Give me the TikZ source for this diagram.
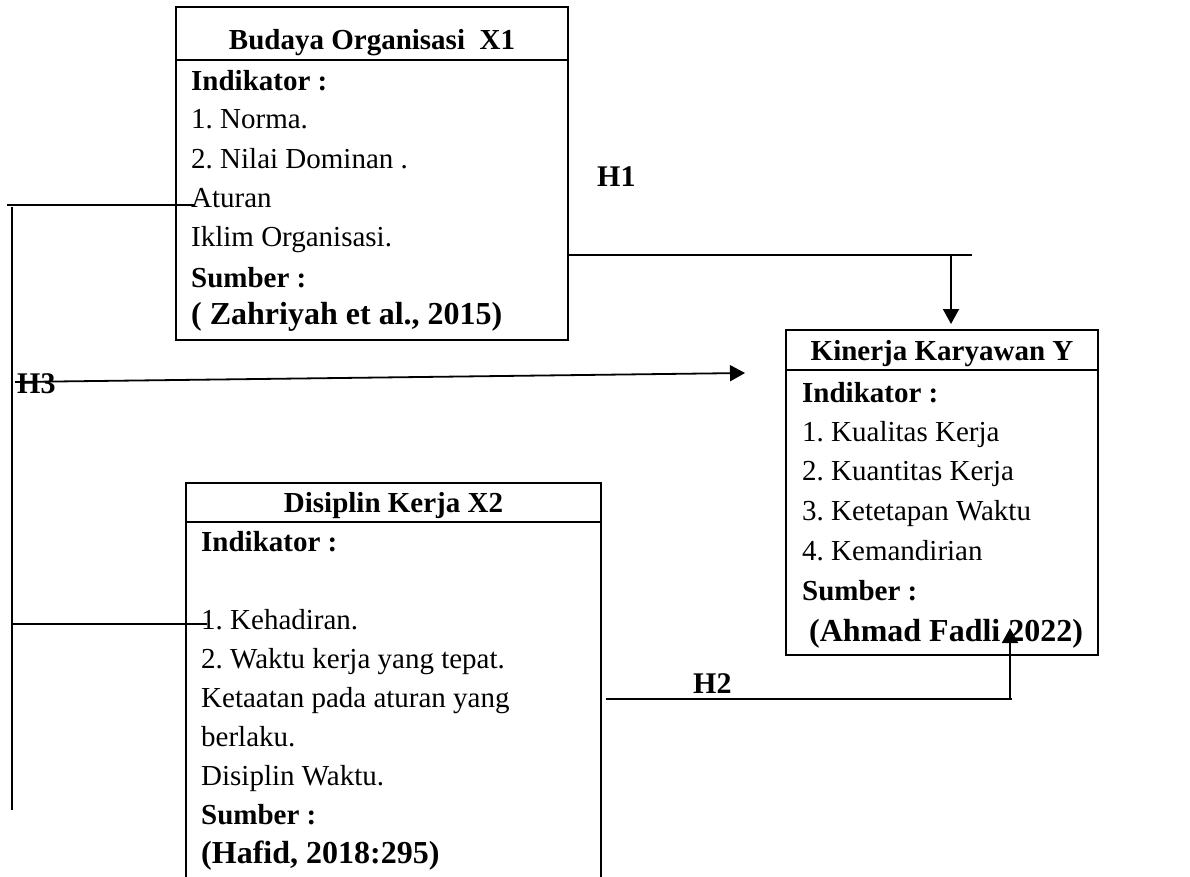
\documentclass[tikz,border=0pt]{standalone}
\usepackage{fontspec}
\setmainfont{Liberation Serif}
\usetikzlibrary{arrows.meta}
\frenchspacing
\begin{document}
\begin{tikzpicture}[x=1pt,y=-1pt,
  boxshape/.style={inner sep=0pt, outer sep=0pt, anchor=north west},
  border/.style={line width=1.8pt},
  txt/.style={anchor=base west, inner sep=0pt, font=\fontsize{29}{34}\selectfont},
  btxt/.style={anchor=base west, inner sep=0pt, font=\fontsize{29}{34}\selectfont\bfseries},
  src/.style={anchor=base west, inner sep=0pt, font=\fontsize{32}{38}\selectfont\bfseries},
  ttl/.style={anchor=base, inner sep=0pt, font=\fontsize{29}{34}\selectfont\bfseries},
  hlab/.style={anchor=base west, inner sep=0pt, font=\fontsize{30}{36}\selectfont\bfseries},
  conn/.style={line width=1.8pt},
  thin/.style={line width=1.3pt},
  arr/.style={line width=1.8pt, -{Triangle[length=15pt,width=16pt]}},
]
\useasboundingbox (0,0) rectangle (1190,877);

% ---------- Box 1: Budaya Organisasi X1
\node[boxshape, draw, line width=1.8pt, minimum width=392pt, minimum height=333pt] (b1) at (176,7) {};
\draw[border] (176,60) -- (568,60);
\node[ttl] (b1t) at (372,50) {Budaya Organisasi\ \ X1};
\node[btxt] (b1l1) at (191,91) {Indikator :};
\node[txt]  (b1l2) at (191,129) {1. Norma.};
\node[txt]  (b1l3) at (191,169) {2. Nilai Dominan .};
\node[txt]  (b1l4) at (191,208) {Aturan};
\node[txt]  (b1l5) at (191,247) {Iklim Organisasi.};
\node[btxt] (b1l6) at (191,287) {Sumber :};
\node[src]  (b1l7) at (191,324) {( Zahriyah et al., 2015)};

% ---------- Box 2: Disiplin Kerja X2 (open at the bottom)
\node[boxshape, minimum width=415pt, minimum height=394pt] (b2) at (186,483) {};
\draw[border] (b2.south west) -- (b2.north west) -- (b2.north east) -- (b2.south east);
\draw[border] (186,522) -- (601,522);
\node[ttl] (b2t) at (393.5,512) {Disiplin Kerja X2};
\node[btxt] (b2l1) at (201,551) {Indikator :};
\node[txt]  (b2l2) at (201,629) {1. Kehadiran.};
\node[txt]  (b2l3) at (201,668) {2. Waktu kerja yang tepat.};
\node[txt]  (b2l4) at (201,707) {Ketaatan pada aturan yang};
\node[txt]  (b2l5) at (201,746) {berlaku.};
\node[txt]  (b2l6) at (201,785) {Disiplin Waktu.};
\node[btxt] (b2l7) at (201,824) {Sumber :};
\node[src]  (b2l8) at (201,863) {(Hafid, 2018:295)};

% ---------- Box 3: Kinerja Karyawan Y
\node[boxshape, draw, line width=1.8pt, minimum width=312pt, minimum height=325pt] (b3) at (786,330) {};
\draw[border] (786,370) -- (1098,370);
\node[ttl] (b3t) at (942,360) {Kinerja Karyawan Y};
\node[btxt] (b3l1) at (802,402) {Indikator :};
\node[txt]  (b3l2) at (802,441) {1. Kualitas Kerja};
\node[txt]  (b3l3) at (802,480) {2. Kuantitas Kerja};
\node[txt]  (b3l4) at (802,520) {3. Ketetapan Waktu};
\node[txt]  (b3l5) at (802,560) {4. Kemandirian};
\node[btxt] (b3l6) at (802,600) {Sumber :};
\node[src]  (b3l7) at (809,641) {(Ahmad Fadli 2022)};

% ---------- connector end points
\coordinate (h1s) at (b1.east |- 0,255);
\coordinate (h1e) at (972,255);
\coordinate (h1j) at (951,255);
\coordinate (h1tip) at (951,324);

\coordinate (h2s) at (606,699);
\coordinate (h2e) at (1012,699);
\coordinate (h2j) at (1010,699);
\coordinate (h2tip) at (1010,628);

\coordinate (h3top) at (12,207);
\coordinate (h3bot) at (12,810);
\coordinate (h3a) at (7,205);
\coordinate (h3b) at (194,205);
\coordinate (h3c) at (12,624);
\coordinate (h3d) at (207,624);
\coordinate (h3s) at (15,382);
\coordinate (h3tip) at (745,373);

% ---------- H1
\draw[conn] (h1s) -- (h1e);
\draw[arr] (h1j) -- (h1tip);
\node[hlab] (lh1) at (597,187) {H1};

% ---------- H2
\draw[conn] (h2s) -- (h2e);
\draw[arr] (h2j) -- (h2tip);
\node[hlab] (lh2) at (693,693) {H2};

% ---------- H3
\draw[thin] (h3top) -- (h3bot);
\draw[conn] (h3a) -- (h3b);
\draw[thin] (h3c) -- (h3d);
\node[hlab] (lh3) at (17,393) {H3};
\draw[arr] (h3s) -- (h3tip);
\end{tikzpicture}
\end{document}
